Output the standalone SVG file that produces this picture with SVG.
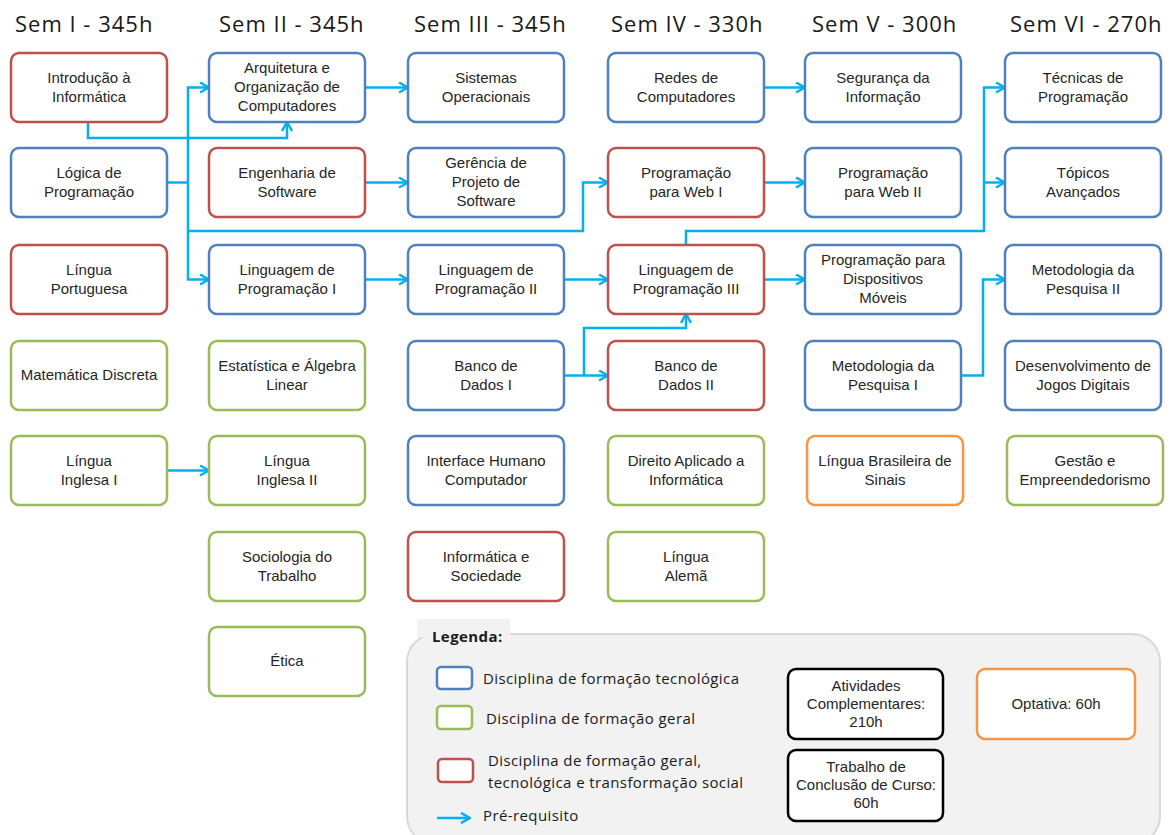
<svg xmlns="http://www.w3.org/2000/svg" width="1172" height="835" viewBox="0 0 1172 835">
<style>
.hdr{font-family:"Open Sans","Noto Sans",sans-serif;font-size:22px;letter-spacing:1px;fill:#1a1a1a}
.box{fill:#fff;stroke-width:2.5}
.b{stroke:#4F81BD}.r{stroke:#C0504D}.g{stroke:#9BBB59}.o{stroke:#F79646}.k{stroke:#000}
.t{font-family:"Liberation Sans",Arial,sans-serif;font-size:15px;fill:#262626;text-anchor:middle}
.lt{font-family:"Open Sans","Noto Sans",sans-serif;font-size:15px;letter-spacing:0.4px;fill:#1a1a1a}
.c{fill:none;stroke:#00B0F0;stroke-width:2.5;stroke-linejoin:miter}
</style>
<defs>
<marker id="ah" viewBox="0 0 12 12" refX="11" refY="6" markerWidth="12" markerHeight="12" markerUnits="userSpaceOnUse" orient="auto">
<path d="M2,1 L11,6 L2,11" fill="none" stroke="#00B0F0" stroke-width="2.5"/>
</marker>
</defs>
<rect width="1172" height="835" fill="#fff"/>
<g id="headers">
<text class="hdr" x="15" y="32">Sem I - 345h</text>
<text class="hdr" x="219" y="32">Sem II - 345h</text>
<text class="hdr" x="414" y="32">Sem III - 345h</text>
<text class="hdr" x="611" y="32">Sem IV - 330h</text>
<text class="hdr" x="812" y="32">Sem V - 300h</text>
<text class="hdr" x="1010" y="32">Sem VI - 270h</text>
</g>
<g id="connectors">
<path class="c" d="M88,122 V138 H287 V122" marker-end="url(#ah)"/>
<path class="c" d="M166,182.5 H188"/>
<path class="c" d="M188,182.5 V87.5 H209" marker-end="url(#ah)"/>
<path class="c" d="M188,182.5 V279.5 H209" marker-end="url(#ah)"/>
<path class="c" d="M188,231 H583 V182.5 H608" marker-end="url(#ah)"/>
<path class="c" d="M365,87.5 H408" marker-end="url(#ah)"/>
<path class="c" d="M365,182.5 H408" marker-end="url(#ah)"/>
<path class="c" d="M365,279.5 H408" marker-end="url(#ah)"/>
<path class="c" d="M564,279.5 H608" marker-end="url(#ah)"/>
<path class="c" d="M564,375.5 H608" marker-end="url(#ah)"/>
<path class="c" d="M584,375.5 V328 H686 V314" marker-end="url(#ah)"/>
<path class="c" d="M765,279.5 H805" marker-end="url(#ah)"/>
<path class="c" d="M686,245 V231 H984 V87.5 H1005" marker-end="url(#ah)"/>
<path class="c" d="M984,182.5 H1005" marker-end="url(#ah)"/>
<path class="c" d="M765,87.5 H805" marker-end="url(#ah)"/>
<path class="c" d="M765,182.5 H805" marker-end="url(#ah)"/>
<path class="c" d="M962,375.5 H983 V279.5 H1005" marker-end="url(#ah)"/>
<path class="c" d="M166,470.5 H209" marker-end="url(#ah)"/>
</g>
<g id="n-intro"><rect class="box r" x="11" y="53" width="156" height="69" rx="8"/><text class="t" x="89" y="83">Introdução à</text><text class="t" x="89" y="102">Informática</text></g>
<g id="n-logica"><rect class="box b" x="11" y="148" width="156" height="69" rx="8"/><text class="t" x="89" y="178">Lógica de</text><text class="t" x="89" y="197">Programação</text></g>
<g id="n-portugues"><rect class="box r" x="11" y="245" width="156" height="69" rx="8"/><text class="t" x="89" y="275">Língua</text><text class="t" x="89" y="294">Portuguesa</text></g>
<g id="n-matdisc"><rect class="box g" x="11" y="341" width="156" height="69" rx="8"/><text class="t" x="89" y="380">Matemática Discreta</text></g>
<g id="n-ingles1"><rect class="box g" x="11" y="436" width="156" height="69" rx="8"/><text class="t" x="89" y="466">Língua</text><text class="t" x="89" y="485">Inglesa I</text></g>

<g id="n-arq"><rect class="box b" x="209" y="53" width="156" height="69" rx="8"/><text class="t" x="287" y="73">Arquitetura e</text><text class="t" x="287" y="92">Organização de</text><text class="t" x="287" y="111">Computadores</text></g>
<g id="n-engsw"><rect class="box r" x="209" y="148" width="156" height="69" rx="8"/><text class="t" x="287" y="178">Engenharia de</text><text class="t" x="287" y="197">Software</text></g>
<g id="n-lp1"><rect class="box b" x="209" y="245" width="156" height="69" rx="8"/><text class="t" x="287" y="275">Linguagem de</text><text class="t" x="287" y="294">Programação I</text></g>
<g id="n-estat"><rect class="box g" x="209" y="341" width="156" height="69" rx="8"/><text class="t" x="287" y="371">Estatística e Álgebra</text><text class="t" x="287" y="390">Linear</text></g>
<g id="n-ingles2"><rect class="box g" x="209" y="436" width="156" height="69" rx="8"/><text class="t" x="287" y="466">Língua</text><text class="t" x="287" y="485">Inglesa II</text></g>
<g id="n-socio"><rect class="box g" x="209" y="532" width="156" height="69" rx="8"/><text class="t" x="287" y="562">Sociologia do</text><text class="t" x="287" y="581">Trabalho</text></g>
<g id="n-etica"><rect class="box g" x="209" y="627" width="156" height="69" rx="8"/><text class="t" x="287" y="666">Ética</text></g>

<g id="n-so"><rect class="box b" x="408" y="53" width="156" height="69" rx="8"/><text class="t" x="486" y="83">Sistemas</text><text class="t" x="486" y="102">Operacionais</text></g>
<g id="n-gerencia"><rect class="box b" x="408" y="148" width="156" height="69" rx="8"/><text class="t" x="486" y="168">Gerência de</text><text class="t" x="486" y="187">Projeto de</text><text class="t" x="486" y="206">Software</text></g>
<g id="n-lp2"><rect class="box b" x="408" y="245" width="156" height="69" rx="8"/><text class="t" x="486" y="275">Linguagem de</text><text class="t" x="486" y="294">Programação II</text></g>
<g id="n-bd1"><rect class="box b" x="408" y="341" width="156" height="69" rx="8"/><text class="t" x="486" y="371">Banco de</text><text class="t" x="486" y="390">Dados I</text></g>
<g id="n-ihc"><rect class="box b" x="408" y="436" width="156" height="69" rx="8"/><text class="t" x="486" y="466">Interface Humano</text><text class="t" x="486" y="485">Computador</text></g>
<g id="n-infosoc"><rect class="box r" x="408" y="532" width="156" height="69" rx="8"/><text class="t" x="486" y="562">Informática e</text><text class="t" x="486" y="581">Sociedade</text></g>

<g id="n-redes"><rect class="box b" x="608" y="53" width="156" height="69" rx="8"/><text class="t" x="686" y="83">Redes de</text><text class="t" x="686" y="102">Computadores</text></g>
<g id="n-web1"><rect class="box r" x="608" y="148" width="156" height="69" rx="8"/><text class="t" x="686" y="178">Programação</text><text class="t" x="686" y="197">para Web I</text></g>
<g id="n-lp3"><rect class="box r" x="608" y="245" width="156" height="69" rx="8"/><text class="t" x="686" y="275">Linguagem de</text><text class="t" x="686" y="294">Programação III</text></g>
<g id="n-bd2"><rect class="box r" x="608" y="341" width="156" height="69" rx="8"/><text class="t" x="686" y="371">Banco de</text><text class="t" x="686" y="390">Dados II</text></g>
<g id="n-direito"><rect class="box g" x="608" y="436" width="156" height="69" rx="8"/><text class="t" x="686" y="466">Direito Aplicado a</text><text class="t" x="686" y="485">Informática</text></g>
<g id="n-alema"><rect class="box g" x="608" y="532" width="156" height="69" rx="8"/><text class="t" x="686" y="562">Língua</text><text class="t" x="686" y="581">Alemã</text></g>

<g id="n-seg"><rect class="box b" x="805" y="53" width="156" height="69" rx="8"/><text class="t" x="883" y="83">Segurança da</text><text class="t" x="883" y="102">Informação</text></g>
<g id="n-web2"><rect class="box b" x="805" y="148" width="156" height="69" rx="8"/><text class="t" x="883" y="178">Programação</text><text class="t" x="883" y="197">para Web II</text></g>
<g id="n-mobile"><rect class="box b" x="805" y="245" width="156" height="69" rx="8"/><text class="t" x="883" y="265">Programação para</text><text class="t" x="883" y="284">Dispositivos</text><text class="t" x="883" y="303">Móveis</text></g>
<g id="n-metod1"><rect class="box b" x="805" y="341" width="156" height="69" rx="8"/><text class="t" x="883" y="371">Metodologia da</text><text class="t" x="883" y="390">Pesquisa I</text></g>
<g id="n-libras"><rect class="box o" x="807" y="436" width="156" height="69" rx="8"/><text class="t" x="885" y="466">Língua Brasileira de</text><text class="t" x="885" y="485">Sinais</text></g>

<g id="n-tecnicas"><rect class="box b" x="1005" y="53" width="156" height="69" rx="8"/><text class="t" x="1083" y="83">Técnicas de</text><text class="t" x="1083" y="102">Programação</text></g>
<g id="n-topicos"><rect class="box b" x="1005" y="148" width="156" height="69" rx="8"/><text class="t" x="1083" y="178">Tópicos</text><text class="t" x="1083" y="197">Avançados</text></g>
<g id="n-metod2"><rect class="box b" x="1005" y="245" width="156" height="69" rx="8"/><text class="t" x="1083" y="275">Metodologia da</text><text class="t" x="1083" y="294">Pesquisa II</text></g>
<g id="n-jogos"><rect class="box b" x="1005" y="341" width="156" height="69" rx="8"/><text class="t" x="1083" y="371">Desenvolvimento de</text><text class="t" x="1083" y="390">Jogos Digitais</text></g>
<g id="n-gestao"><rect class="box g" x="1007" y="436" width="156" height="69" rx="8"/><text class="t" x="1085" y="466">Gestão e</text><text class="t" x="1085" y="485">Empreendedorismo</text></g>

<g id="legend">
<rect x="407" y="634" width="753" height="210" rx="28" fill="#f2f2f2" stroke="#d9d9d9" stroke-width="2"/>
<rect x="417" y="619" width="93" height="18" fill="#f2f2f2"/>
<text class="lt" x="432" y="642" font-weight="bold" letter-spacing="0">Legenda:</text>
<rect class="box b" x="437" y="667" width="35" height="22" rx="4" stroke-width="2"/>
<text class="lt" x="483" y="684">Disciplina de formação tecnológica</text>
<rect class="box g" x="437" y="706" width="35" height="23" rx="4" stroke-width="2"/>
<text class="lt" x="486" y="724">Disciplina de formação geral</text>
<rect class="box r" x="438" y="759" width="35" height="23" rx="4" stroke-width="2"/>
<text class="lt" x="488" y="766">Disciplina de formação geral,</text>
<text class="lt" x="488" y="788">tecnológica e transformação social</text>
<path class="c" d="M437,818 H470" marker-end="url(#ah)"/>
<text class="lt" x="483" y="821">Pré-requisito</text>
</g>
<g id="n-ativ"><rect class="box k" x="788" y="669" width="155" height="70" rx="8"/><text class="t" x="866" y="691">Atividades</text><text class="t" x="866" y="709">Complementares:</text><text class="t" x="866" y="727">210h</text></g>
<g id="n-tcc"><rect class="box k" x="788" y="750" width="155" height="71" rx="8"/><text class="t" x="866" y="772">Trabalho de</text><text class="t" x="866" y="790">Conclusão de Curso:</text><text class="t" x="866" y="808">60h</text></g>
<g id="n-optativa"><rect class="box o" x="977" y="669" width="158" height="70" rx="8"/><text class="t" x="1056" y="709">Optativa: 60h</text></g>
</svg>
